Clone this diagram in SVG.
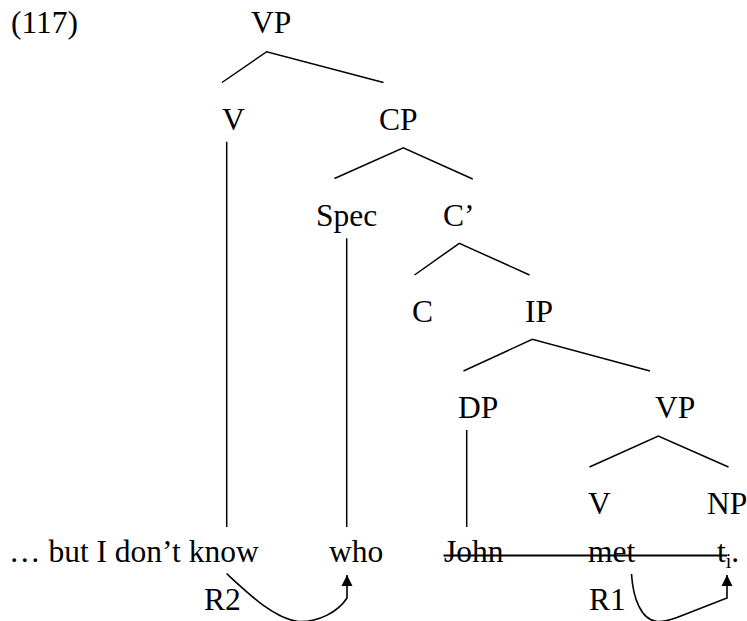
<svg xmlns="http://www.w3.org/2000/svg" width="747" height="621" viewBox="0 0 747 621">
  <style>
    text { font-family: "Liberation Serif", Tinos, "Times New Roman", Times, "DejaVu Serif", serif; font-size: 31.5px; fill: #000; }
    .sub { font-size: 20px; }
    .edge { stroke: #000; stroke-width: 1.5; fill: none; }
    .strike { stroke: #000; stroke-width: 2; fill: none; }
    .rel { stroke: #000; stroke-width: 1.6; fill: none; }
  </style>
  <defs>
    <marker id="arrow" viewBox="0 0 10 10" refX="10" refY="5" markerWidth="11" markerHeight="15" markerUnits="userSpaceOnUse" orient="auto">
      <path d="M0,0 L10,5 L0,10 Z" fill="#000"/>
    </marker>
  </defs>

  <rect width="747" height="621" fill="#fff"/>

  <text id="example-number" x="11" y="33">(117)</text>

  <!-- tree nodes -->
  <g id="vp-top"><text x="251" y="33">VP</text></g>
  <g id="v-top"><text x="222" y="130">V</text></g>
  <g id="cp"><text x="379" y="130">CP</text></g>
  <g id="spec"><text x="316" y="226">Spec</text></g>
  <g id="c-bar"><text x="443" y="226">C’</text></g>
  <g id="c"><text x="412" y="322">C</text></g>
  <g id="ip"><text x="525" y="322">IP</text></g>
  <g id="dp"><text x="458" y="418">DP</text></g>
  <g id="vp-low"><text x="655" y="418">VP</text></g>
  <g id="v-low"><text x="588" y="514">V</text></g>
  <g id="np"><text x="707" y="514">NP</text></g>

  <!-- terminal string -->
  <g id="w-know"><text x="9" y="562">… but I don’t know</text></g>
  <g id="w-who"><text x="329" y="562">who</text></g>
  <g id="w-john"><text x="444" y="562">John</text></g>
  <g id="w-met"><text x="588" y="562">met</text></g>
  <g id="w-trace"><text x="717" y="562">t<tspan class="sub" dy="6">i</tspan><tspan dy="-6">.</tspan></text></g>

  <!-- relation labels -->
  <g id="label-r2"><text x="204" y="610">R2</text></g>
  <g id="label-r1"><text x="589" y="610">R1</text></g>

  <g id="connectors">
    <!-- branches -->
    <polyline class="edge" points="222,82.5 266.7,51.7 383.5,82.5"/>
    <polyline class="edge" points="334.5,178.5 403.3,147.7 472.7,179"/>
    <polyline class="edge" points="414.5,275 459.3,243.3 529.5,275"/>
    <polyline class="edge" points="463.5,371 532.3,339.3 650,371"/>
    <polyline class="edge" points="589.5,467 658.3,436 728.5,467"/>
    <!-- unary projections to the words -->
    <line class="edge" x1="226.7" y1="141.7" x2="226.7" y2="527"/>
    <line class="edge" x1="346.7" y1="238.3" x2="346.7" y2="527"/>
    <line class="edge" x1="466.7" y1="430" x2="466.7" y2="527"/>
    <!-- deleted material -->
    <line class="strike" x1="443.5" y1="555.5" x2="727" y2="555.5"/>
    <!-- R2: know to who -->
    <path class="rel" d="M226.5,573.5 C252,597 274,618 298,621.5 C318,622.5 338,612 347,598 L347,575" marker-end="url(#arrow)"/>
    <!-- R1: met to trace -->
    <path class="rel" d="M631.5,574 C633,598 641,620 657,621.5 C664,622 670,620 677,617.5 L727,598 L727,575" marker-end="url(#arrow)"/>
  </g>
</svg>
